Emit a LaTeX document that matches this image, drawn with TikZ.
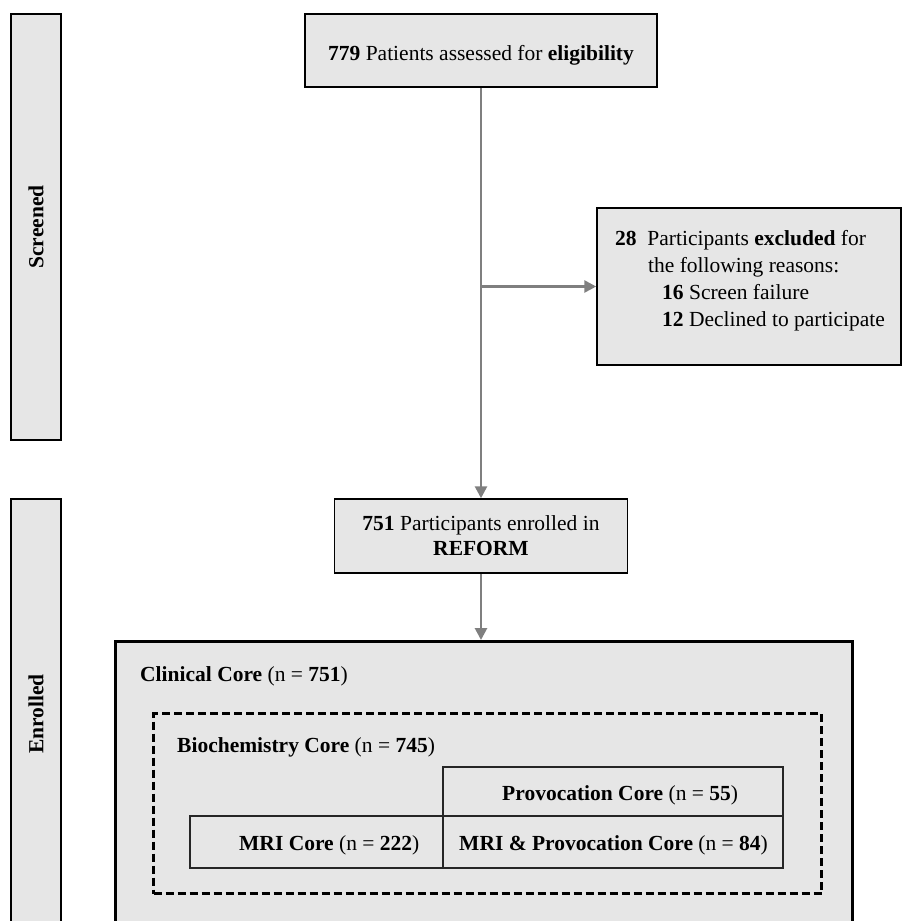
\documentclass[tikz,border=0pt]{standalone}
\usepackage{fontspec}
\setmainfont{Liberation Serif}
\definecolor{BoxGray}{HTML}{E6E6E6}
\definecolor{FlowGray}{HTML}{7F7F7F}
\definecolor{CoreLine}{HTML}{262626}
\usetikzlibrary{arrows.meta,positioning}

\begin{document}
\begin{tikzpicture}[x=1pt, y=-1pt,
      box/.style={draw=black, fill=BoxGray, line width=1.5pt, inner sep=0pt},
      corebox/.style={draw=CoreLine, line width=1.8pt, inner sep=0pt,
                      anchor=north west},
      flow/.style={-{Triangle[length=12pt, width=12pt]},
                   FlowGray, line width=2.7pt},
      txt/.style={inner sep=0pt, anchor=base west},
      every node/.style={font=\fontsize{21.5pt}{25pt}\selectfont}]

      \useasboundingbox (0,0) rectangle (903,921);

      \node[box, minimum width=426, minimum height=50, rotate=90]
            (screened) at (36,227) {\textbf{Screened}};
      \node[box, minimum width=430, minimum height=50, rotate=90]
            (enrolled) at (36,714) {\textbf{Enrolled}};

      \node[box, minimum width=352, minimum height=73,
            text height=19pt, text depth=0pt]
            (assess) at (481,50.5) {\textbf{779} Patients assessed for \textbf{eligibility}};

      \node[box, minimum width=304, minimum height=157] (excl) at (749,286.5) {};
      \node[inner sep=0pt, anchor=north west, align=left,
            font=\fontsize{21.5pt}{27pt}\selectfont] (excltxt) at (615,230)
            {\textbf{28}\ \ Participants \textbf{excluded} for\\
             \hspace*{33pt}the following reasons:\\
             \hspace*{47pt}\textbf{16} Screen failure\\
             \hspace*{47pt}\textbf{12} Declined to participate};

      \node[box, minimum width=293, minimum height=74, align=center]
            (enrol) at (481,536) {\textbf{751} Participants enrolled in\\ \textbf{REFORM}};

      \node[box, line width=2.5pt, minimum width=737, minimum height=320,
            anchor=north west] (clinical) at (114,640) {};
      \node[draw=black, line width=3pt, dash pattern=on 8pt off 4pt,
            minimum width=668, minimum height=180, inner sep=0pt,
            anchor=north west] (biochem) at (152,712) {};

      \node[corebox, minimum width=340, minimum height=49] (prov)    at (442,766) {};
      \node[corebox, minimum width=253, minimum height=52] (mri)     at (189,815) {};
      \node[corebox, minimum width=340, minimum height=52] (mriprov) at (442,815) {};

      \node[txt] (clinicaltxt) at (140,681) {\textbf{Clinical Core} (n = \textbf{751})};
      \node[txt] (biochemtxt)  at (177,752) {\textbf{Biochemistry Core} (n = \textbf{745})};
      \node[txt] (provtxt)     at (502,800) {\textbf{Provocation Core} (n = \textbf{55})};
      \node[txt] (mritxt)      at (239,850) {\textbf{MRI Core} (n = \textbf{222})};
      \node[txt] (mriprovtxt)  at (459,850) {\textbf{MRI \& Provocation Core} (n = \textbf{84})};

      \coordinate (split) at (assess.south |- excl.west);
      \draw[flow] (assess) -- (enrol);
      \draw[flow] (split) -- (excl.west);
      \draw[flow] (enrol.south) -- (enrol.south |- clinical.north);
    \end{tikzpicture}
\end{document}
